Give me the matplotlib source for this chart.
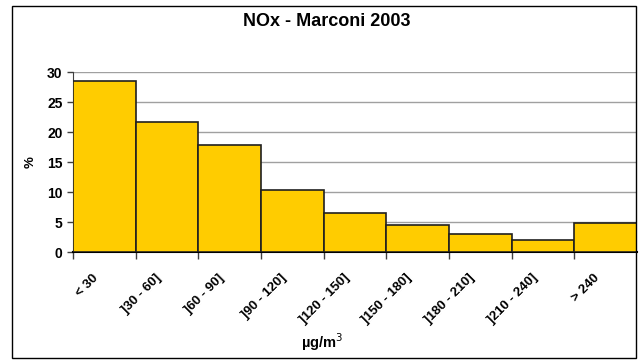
import numpy as np
import matplotlib.pyplot as plt
from matplotlib.patches import Rectangle

plt.rcParams['font.family'] = ['Liberation Sans', 'DejaVu Sans']

# data
labels = ['< 30', ']30 - 60]', ']60 - 90]', ']90 - 120]', ']120 - 150]',
          ']150 - 180]', ']180 - 210]', ']210 - 240]', '> 240']
values = [28.5, 21.7, 17.9, 10.4, 6.5, 4.55, 3.0, 1.95, 4.8]
yticks = [0, 5, 10, 15, 20, 25, 30]

fig = plt.figure(figsize=(6.39, 3.61), dpi=100)
ax = fig.add_axes([73/639, 1 - 252/361, 564/639, 180/361])

x = np.arange(len(values))
ax.bar(x, values, width=1.0, align='edge', color='#FFCC00',
       edgecolor='#202020', linewidth=1.2, zorder=3)

ax.set_xlim(0, len(values))
ax.set_ylim(0, 30)
ax.set_yticks(yticks)
ax.set_yticklabels([str(v) for v in yticks], fontsize=10, fontweight='bold')
ax.set_xticks(x)
ax.set_xticklabels([])
for i, lab in enumerate(labels):
    ax.text(i + 0.31, -3.3, lab, rotation=45, ha='right', va='top',
            rotation_mode='anchor', fontsize=9.5, fontweight='bold')

ax.grid(axis='y', color='#a0a0a0', linewidth=1, zorder=0)
for s in ['top', 'right']:
    ax.spines[s].set_visible(False)
ax.spines['left'].set_color('#404040')
ax.spines['bottom'].set_linewidth(1.5)
ax.tick_params(axis='both', direction='out', length=4, color='#404040', width=1)
ax.tick_params(axis='x', length=5)

ax.set_ylabel('%', fontsize=9.5, fontweight='bold')
ax.yaxis.set_label_coords(-0.064, 0.5)
fig.text(327/639, 1 - 22/361, 'NOx - Marconi 2003', ha='center', va='center',
         fontsize=13, fontweight='bold')
fig.text(322/639, 1 - 342/361, 'µg/m$^3$', ha='center', va='center',
         fontsize=10.5, fontweight='bold')

fig.patches.append(Rectangle((12/639, 1 - 358/361), 624/639, 352/361,
                             transform=fig.transFigure, fill=False,
                             edgecolor='black', linewidth=1))

fig.savefig('out.png', dpi=100)
